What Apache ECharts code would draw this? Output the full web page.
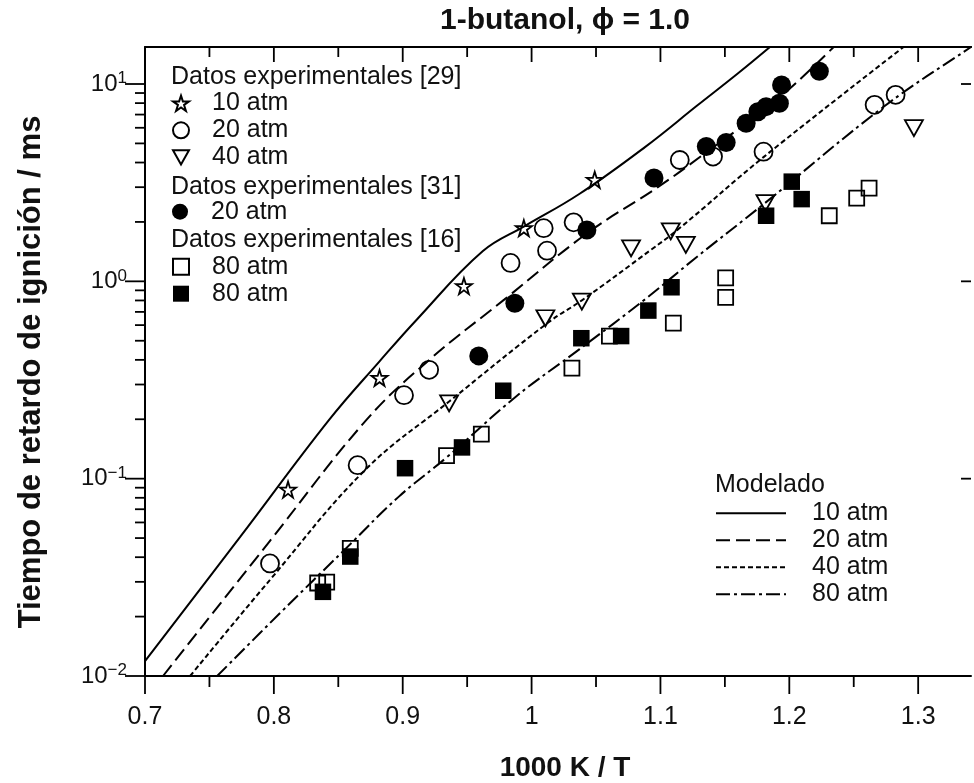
<!DOCTYPE html>
<html>
<head>
<meta charset="utf-8">
<script src="https://cdn.jsdelivr.net/npm/echarts@6/dist/echarts.min.js"></script>
<style>html,body{margin:0;padding:0;background:#fff}#c{width:974px;height:783px}</style>
</head>
<body>
<div id="c"></div>
<script>
// ---------- axis ranges & ticks ----------
const X_MIN = 0.7, X_MAX = 1.341;
const Y_MIN = 0.01, Y_MAX = 15.4;

const xTickValues = [0.7, 0.75, 0.8, 0.85, 0.9, 0.95, 1.0, 1.05, 1.1, 1.15, 1.2, 1.25, 1.3];
const xMajorValues = [0.7, 0.8, 0.9, 1.0, 1.1, 1.2, 1.3];
const xMajorLabels = ['0.7', '0.8', '0.9', '1', '1.1', '1.2', '1.3'];
const yDecadeValues = [0.01, 0.1, 1, 10];
const yDecadeExponents = ['\u22122', '\u22121', '0', '1'];
const yMinorValues = [0.02, 0.03, 0.04, 0.05, 0.06, 0.07, 0.08, 0.09,
                      0.2, 0.3, 0.4, 0.5, 0.6, 0.7, 0.8, 0.9,
                      2, 3, 4, 5, 6, 7, 8, 9];

// ---------- model curves (Modelado) ----------
const model10X = [0.700, 0.774, 0.843, 0.882, 0.911, 0.962, 0.995, 1.037, 1.088, 1.129, 1.160, 1.187];
const model10Y = [0.0119, 0.0508, 0.199, 0.393, 0.641, 1.42, 1.91, 2.77, 4.79, 7.82, 11.3, 15.8];

const model20X = [0.714, 0.797, 0.872, 0.921, 0.979, 1.044, 1.098, 1.139, 1.191, 1.237];
const model20Y = [0.0100, 0.0484, 0.199, 0.402, 0.810, 1.77, 3.00, 4.68, 8.39, 16.0];

const model40X = [0.735, 0.797, 0.871, 0.936, 1.013, 1.039, 1.093, 1.114, 1.180, 1.292];
const model40Y = [0.0100, 0.0307, 0.111, 0.246, 0.619, 0.801, 1.45, 1.84, 4.26, 16.0];

const model80X = [0.756, 0.805, 0.855, 0.897, 0.934, 0.988, 1.037, 1.088, 1.127, 1.180, 1.274, 1.341, 1.360];
const model80Y = [0.0100, 0.0209, 0.0437, 0.0811, 0.128, 0.261, 0.452, 0.810, 1.31, 2.46, 7.73, 15.4, 18.6];

// ---------- experimental data ----------
const exp29_10atm = [[0.811, 0.088], [0.882, 0.324], [0.9475, 0.946], [0.994, 1.86], [1.049, 3.27]];
const exp29_20atm = [[0.797, 0.0372], [0.865, 0.117], [0.901, 0.265], [0.9205, 0.356], [0.9837, 1.24],
                     [1.0094, 1.86], [1.012, 1.43], [1.0326, 1.99], [1.115, 4.12], [1.1408, 4.29],
                     [1.180, 4.54], [1.2662, 7.84], [1.2825, 8.81]];
const exp29_40atm = [[0.936, 0.241], [1.0107, 0.650], [1.039, 0.789], [1.0772, 1.47], [1.108, 1.79],
                     [1.1197, 1.53], [1.1815, 2.49], [1.2967, 5.97]];
const exp31_20atm = [[0.959, 0.419], [0.987, 0.775], [1.0429, 1.82], [1.095, 3.34], [1.1356, 4.82],
                     [1.151, 5.05], [1.1665, 6.32], [1.1756, 7.24], [1.182, 7.68], [1.1923, 7.99],
                     [1.194, 9.89], [1.2233, 11.6]];
const exp16_80atmOpen = [[0.834, 0.0296], [0.841, 0.0299], [0.8593, 0.0443], [0.934, 0.131], [0.961, 0.168],
                         [1.0313, 0.363], [1.0604, 0.528], [1.11, 0.614], [1.1506, 0.830], [1.1506, 1.04],
                         [1.231, 2.15], [1.2523, 2.64], [1.2619, 2.97]];
const exp16_80atmFilled = [[0.8381, 0.0267], [0.8593, 0.0403], [0.9018, 0.113], [0.946, 0.144], [0.978, 0.279],
                           [1.0386, 0.515], [1.0695, 0.528], [1.0906, 0.711], [1.1086, 0.933], [1.182, 2.15],
                           [1.2019, 3.20], [1.2096, 2.61]];

// ---------- texts ----------
const titleText = '1-butanol, \u03D5 = 1.0';
const xAxisTitle = '1000 K / T';
const yAxisTitle = 'Tiempo de retardo de ignición / ms';
const displayNames = {
  e29_10: '10 atm', e29_20: '20 atm', e29_40: '40 atm', e31_20: '20 atm',
  e16_80o: '80 atm', e16_80f: '80 atm',
  m10: '10 atm', m20: '20 atm', m40: '40 atm', m80: '80 atm'
};

const FONT = '"Liberation Sans", Arial, Helvetica, sans-serif';
const INK = '#111';
const zip = (xs, ys) => xs.map((x, i) => [x, ys[i]]);

const STAR = 'path://M50,2 L61,36 L97,36 L68,57 L79,92 L50,71 L21,92 L32,57 L3,36 L39,36 Z';
const TRI_DOWN = 'path://M2,2 L98,2 L50,88 Z';

function lineSeries(name, xs, ys, type) {
  return {
    name, type: 'line', data: zip(xs, ys), symbol: 'none', showSymbol: false,
    smooth: 0.4, clip: true, z: 2,
    lineStyle: { color: '#000', width: 2, type: type, cap: 'butt', opacity: 1 },
    itemStyle: { color: '#000' }
  };
}
function scatterSeries(name, data, symbol, size, filled) {
  return {
    name, type: 'scatter', data, symbol, symbolSize: size, z: filled ? 4 : 3,
    itemStyle: filled ? { color: '#000', borderColor: '#000', borderWidth: 0, opacity: 1 }
                      : { color: 'rgba(255,255,255,0)', borderColor: '#000', borderWidth: 1.8, opacity: 1 }
  };
}

const ticksSeries = {
  type: 'custom', name: 'ticks', silent: true, clip: false, z: 10,
  data: [[X_MIN, Y_MIN]],
  renderItem: function (params, api) {
    const children = [];
    const seg = (x1, y1, x2, y2) => children.push({
      type: 'line', shape: { x1, y1, x2, y2 }, style: { stroke: '#000', lineWidth: 1.8 }
    });
    xTickValues.forEach(v => {
      const major = xMajorValues.some(m => Math.abs(m - v) < 1e-9);
      const b = api.coord([v, Y_MIN]);
      const t = api.coord([v, Y_MAX]);
      seg(b[0], b[1], b[0], b[1] + (major ? 18 : 11));
      seg(t[0], t[1], t[0], t[1] + (major ? 15 : 10));
    });
    yDecadeValues.forEach(v => {
      const l = api.coord([X_MIN, v]);
      seg(l[0] - 20, l[1], l[0], l[1]);
      const r = api.coord([X_MAX, v]);
      seg(r[0] - 10, r[1], r[0], r[1]);
    });
    yMinorValues.forEach(v => {
      const l = api.coord([X_MIN, v]);
      seg(l[0] - 10, l[1], l[0], l[1]);
    });
    return { type: 'group', children };
  }
};

const legendBase = {
  orient: 'vertical', padding: 0, itemGap: 0, selectedMode: false,
  itemWidth: 16, itemHeight: 16,
  formatter: n => displayNames[n],
  textStyle: { fontSize: 25, lineHeight: 27, fontFamily: FONT, color: INK, padding: [0, 0, 0, 18] }
};

const option = {
  animation: false,
  backgroundColor: '#fff',
  grid: { left: 145, right: 0, top: 47, bottom: 107, containLabel: false, show: false },
  xAxis: [{
    type: 'value', min: X_MIN, max: X_MAX, interval: 0.1,
    axisLine: { show: true, onZero: false, lineStyle: { color: '#000', width: 2 } },
    axisTick: { show: false }, splitLine: { show: false },
    axisLabel: {
      margin: 29, fontSize: 25, fontFamily: FONT, color: INK,
      formatter: v => {
        const i = xMajorValues.findIndex(m => Math.abs(m - v) < 1e-6);
        return i >= 0 ? xMajorLabels[i] : '';
      }
    }
  }, {
    type: 'value', position: 'top', min: X_MIN, max: X_MAX, interval: 0.1,
    axisLine: { show: true, onZero: false, lineStyle: { color: '#000', width: 2 } },
    axisTick: { show: false }, axisLabel: { show: false }, splitLine: { show: false }
  }],
  yAxis: [{
    type: 'log', logBase: 10, min: Y_MIN, max: Y_MAX,
    axisLine: { show: true, onZero: false, lineStyle: { color: '#000', width: 2 } },
    axisTick: { show: false }, splitLine: { show: false }, minorTick: { show: false },
    axisLabel: {
      margin: 18, color: INK,
      formatter: v => {
        const i = yDecadeValues.findIndex(d => Math.abs(Math.log10(d) - Math.log10(v)) < 1e-6);
        return i >= 0 ? '{b|10}{s|' + yDecadeExponents[i] + '}' : '';
      },
      rich: {
        b: { fontSize: 24, lineHeight: 28, fontFamily: FONT, color: INK },
        s: { fontSize: 17, lineHeight: 18, fontFamily: FONT, color: INK, verticalAlign: 'top' }
      }
    }
  }],
  legend: [
    Object.assign({}, legendBase, { data: ['e29_10', 'e29_20', 'e29_40'], left: 172, top: 89.8 }),
    Object.assign({}, legendBase, { data: ['e31_20'], left: 172, top: 198.2 }),
    Object.assign({}, legendBase, { data: ['e16_80o', 'e16_80f'], left: 172, top: 253.2 }),
    Object.assign({}, legendBase, {
      data: ['m10', 'm20', 'm40', 'm80'], left: 715, top: 499.8, itemWidth: 70,
      itemStyle: { opacity: 0, borderWidth: 0 },
      lineStyle: { width: 2, color: '#000' },
      textStyle: { fontSize: 25, lineHeight: 27, fontFamily: FONT, color: INK, padding: [0, 0, 0, 21] }
    })
  ],
  graphic: [
    { type: 'text', x: 565, y: 21, style: { text: titleText, font: 'bold 30px ' + FONT, fill: INK, align: 'center', verticalAlign: 'middle' } },
    { type: 'text', x: 565, y: 768, style: { text: xAxisTitle, font: 'bold 28px ' + FONT, fill: INK, align: 'center', verticalAlign: 'middle' } },
    { type: 'text', x: 31, y: 372, rotation: Math.PI / 2, style: { text: yAxisTitle, font: 'bold 31px ' + FONT, fill: INK, align: 'center', verticalAlign: 'middle' } },
    { type: 'text', x: 171, y: 77, style: { text: 'Datos experimentales [29]', font: '25px ' + FONT, fill: INK, align: 'left', verticalAlign: 'middle' } },
    { type: 'text', x: 171, y: 187, style: { text: 'Datos experimentales [31]', font: '25px ' + FONT, fill: INK, align: 'left', verticalAlign: 'middle' } },
    { type: 'text', x: 171, y: 240, style: { text: 'Datos experimentales [16]', font: '25px ' + FONT, fill: INK, align: 'left', verticalAlign: 'middle' } },
    { type: 'text', x: 715, y: 485, style: { text: 'Modelado', font: '25px ' + FONT, fill: INK, align: 'left', verticalAlign: 'middle' } }
  ],
  series: [
    lineSeries('m10', model10X, model10Y, 'solid'),
    lineSeries('m20', model20X, model20Y, [14, 6]),
    lineSeries('m40', model40X, model40Y, [5, 3]),
    lineSeries('m80', model80X, model80Y, [14, 4, 3, 4]),
    scatterSeries('e29_10', exp29_10atm, STAR, 16, false),
    scatterSeries('e29_20', exp29_20atm, 'circle', 18, false),
    scatterSeries('e29_40', exp29_40atm, TRI_DOWN, [18, 16], false),
    scatterSeries('e16_80o', exp16_80atmOpen, 'rect', 15, false),
    scatterSeries('e31_20', exp31_20atm, 'circle', 19, true),
    scatterSeries('e16_80f', exp16_80atmFilled, 'rect', 16.5, true),
    ticksSeries
  ]
};

const chart = echarts.init(document.getElementById('c'), null, { renderer: 'canvas' });
chart.setOption(option);
</script>
</body>
</html>
